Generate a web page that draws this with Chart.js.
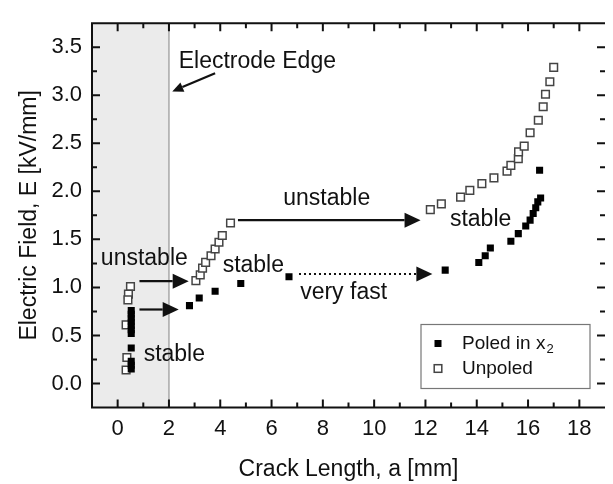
<!DOCTYPE html>
<html>
<head>
<meta charset="utf-8">
<script src="https://cdn.jsdelivr.net/npm/chart.js"></script>
<style>
  body { margin: 0; background: #fff; }
  canvas { display: block; }
</style>
</head>
<body>
<canvas id="myChart" width="613" height="484"></canvas>
<script>
// Poled in x2 (filled squares)
let poledX = [0.53, 0.53, 0.53, 0.53, 0.53, 0.53, 0.53, 0.53, 0.53, 0.53, 0.53,
    2.80, 3.18, 3.80, 4.80, 6.68, 12.77, 14.08, 14.33, 14.53, 15.33, 15.62, 15.91,
    16.08, 16.20, 16.30, 16.38, 16.49, 16.45];
let poledE = [0.76, 0.72, 0.68, 0.64, 0.60, 0.56, 0.52, 0.37, 0.23, 0.19, 0.15,
    0.81, 0.89, 0.96, 1.04, 1.11, 1.18, 1.26, 1.33, 1.41, 1.48, 1.56, 1.64,
    1.70, 1.77, 1.83, 1.89, 1.93, 2.22];

// Unpoled (open squares)
let unpoledX = [0.50, 0.42, 0.40, 0.33, 0.36, 0.33,
    3.05, 3.22, 3.31, 3.43, 3.64, 3.80, 3.95, 4.08, 4.40,
    12.19, 12.62, 13.37, 13.73, 14.20, 14.67, 15.18, 15.33, 15.62, 15.63, 15.85,
    16.08, 16.40, 16.59, 16.68, 16.85, 17.00];
let unpoledE = [1.01, 0.93, 0.87, 0.61, 0.27, 0.14,
    1.07, 1.13, 1.20, 1.26, 1.33, 1.40, 1.47, 1.54, 1.67,
    1.81, 1.87, 1.94, 2.01, 2.08, 2.14, 2.21, 2.27, 2.34, 2.41, 2.47,
    2.61, 2.74, 2.88, 3.01, 3.14, 3.29];

let xMin = -1, xMax = 19;
let yMin = -0.25, yMax = 3.75;
let electrodeEdge = 2;

// annotations, in data units
let labels = [
    { text: 'Electrode Edge', x: 2.38, y: 3.35, align: 'left' },
    { text: 'unstable', x: 8.15, y: 1.92 },
    { text: 'unstable', x: 1.04, y: 1.30 },
    { text: 'stable', x: 2.21, y: 0.30 },
    { text: 'stable', x: 5.29, y: 1.23 },
    { text: 'very fast', x: 8.81, y: 0.95 },
    { text: 'stable', x: 14.15, y: 1.71 }
];
let arrows = [
    { x1: 3.80, y1: 3.23, x2: 2.13, y2: 3.04, head: 11, half: 5 },
    { x1: 4.69, y1: 1.70, x2: 11.81, y2: 1.70 },
    { x1: 0.85, y1: 1.065, x2: 2.77, y2: 1.065 },
    { x1: 0.85, y1: 0.77, x2: 2.38, y2: 0.77 },
    { x1: 7.07, y1: 1.14, x2: 12.27, y2: 1.14, dotted: true }
];

let toPoints = function (xs, ys) {
    return xs.map((x, i) => ({ x: x, y: ys[i] }));
}

let FONT = "'Liberation Sans', Arial, sans-serif";

let drawArrow = function (ctx, a, sx, sy) {
    let x1 = sx(a.x1), y1 = sy(a.y1), x2 = sx(a.x2), y2 = sy(a.y2);
    let head = a.head || 16, half = a.half || 7.5;
    let ang = Math.atan2(y2 - y1, x2 - x1);
    let bx = x2 - head * Math.cos(ang), by = y2 - head * Math.sin(ang);
    ctx.save();
    ctx.strokeStyle = '#111';
    ctx.fillStyle = '#111';
    ctx.lineWidth = a.dotted ? 2 : 2.2;
    if (a.dotted) ctx.setLineDash([2, 3]);
    ctx.beginPath();
    ctx.moveTo(x1, y1);
    ctx.lineTo(bx, by);
    ctx.stroke();
    ctx.setLineDash([]);
    ctx.beginPath();
    ctx.moveTo(x2, y2);
    ctx.lineTo(bx + half * Math.sin(ang), by - half * Math.cos(ang));
    ctx.lineTo(bx - half * Math.sin(ang), by + half * Math.cos(ang));
    ctx.closePath();
    ctx.fill();
    ctx.restore();
}

let framePlugin = {
    id: 'frame',
    beforeDatasetsDraw(chart) {
        let ctx = chart.ctx, ca = chart.chartArea, xs = chart.scales.x;
        let edge = xs.getPixelForValue(electrodeEdge);
        ctx.save();
        ctx.fillStyle = '#ebebeb';
        ctx.fillRect(ca.left, ca.top, edge - ca.left, ca.bottom - ca.top);
        ctx.strokeStyle = '#a8a8a8';
        ctx.lineWidth = 1.5;
        ctx.beginPath();
        ctx.moveTo(edge, ca.top);
        ctx.lineTo(edge, ca.bottom);
        ctx.stroke();
        ctx.restore();
    },
    afterDraw(chart) {
        let ctx = chart.ctx, ca = chart.chartArea;
        let xs = chart.scales.x, ys = chart.scales.y;
        let sx = v => xs.getPixelForValue(v), sy = v => ys.getPixelForValue(v);

        ctx.save();
        ctx.strokeStyle = '#111';
        ctx.lineWidth = 2;
        ctx.beginPath();
        ctx.moveTo(ca.right, ca.top);
        ctx.lineTo(ca.left, ca.top);
        ctx.lineTo(ca.left, ca.bottom);
        ctx.lineTo(ca.right, ca.bottom);
        ctx.stroke();

        // inward ticks
        ctx.beginPath();
        xs.ticks.forEach(t => {
            if (t.value <= xMin || t.value >= xMax) return;
            let len = Math.round(t.value) % 2 === 0 ? 8 : 5;
            let p = sx(t.value);
            ctx.moveTo(p, ca.bottom); ctx.lineTo(p, ca.bottom - len);
            ctx.moveTo(p, ca.top); ctx.lineTo(p, ca.top + len);
        });
        ys.ticks.forEach(t => {
            if (t.value <= yMin + 1e-6 || t.value >= yMax - 1e-6) return;
            let major = Math.abs(t.value * 2 - Math.round(t.value * 2)) < 1e-6;
            let len = major ? 8 : 5;
            let p = sy(t.value);
            ctx.moveTo(ca.left, p); ctx.lineTo(ca.left + len, p);
            ctx.moveTo(ca.right, p); ctx.lineTo(ca.right - len, p);
        });
        ctx.stroke();

        // annotations
        ctx.fillStyle = '#111';
        ctx.font = '23px ' + FONT;
        ctx.textBaseline = 'middle';
        labels.forEach(l => {
            ctx.textAlign = l.align || 'center';
            ctx.fillText(l.text, sx(l.x), sy(l.y));
        });
        arrows.forEach(a => drawArrow(ctx, a, sx, sy));

        // legend
        let bx = ca.right - 184, by = ca.bottom - 83, bw = 169, bh = 64;
        ctx.fillStyle = '#fff';
        ctx.fillRect(bx, by, bw, bh);
        ctx.strokeStyle = '#777';
        ctx.lineWidth = 1.2;
        ctx.strokeRect(bx, by, bw, bh);
        ctx.fillStyle = '#000';
        ctx.fillRect(bx + 17 - 3.5, by + 19 - 3.5, 7, 7);
        ctx.fillStyle = '#fff';
        ctx.strokeStyle = '#444';
        ctx.lineWidth = 1.5;
        ctx.fillRect(bx + 17 - 3.8, by + 44 - 3.8, 7.6, 7.6);
        ctx.strokeRect(bx + 17 - 3.8, by + 44 - 3.8, 7.6, 7.6);
        ctx.fillStyle = '#111';
        ctx.textAlign = 'left';
        ctx.font = '19px ' + FONT;
        ctx.fillText('Poled in x', bx + 41, by + 19);
        let w = ctx.measureText('Poled in x').width;
        ctx.font = '13px ' + FONT;
        ctx.fillText('2', bx + 42 + w, by + 25);
        ctx.font = '19px ' + FONT;
        ctx.fillText('Unpoled', bx + 41, by + 44);
        ctx.restore();
    }
};

let ctx = document.getElementById('myChart').getContext('2d');

let chart = new Chart(ctx, {
    type: 'scatter',
    data: {
        datasets: [{
            label: 'Poled in x2',
            data: toPoints(poledX, poledE),
            pointStyle: 'rect',
            pointRadius: 5,
            backgroundColor: '#000',
            borderColor: '#000',
            borderWidth: 0
        }, {
            label: 'Unpoled',
            data: toPoints(unpoledX, unpoledE),
            pointStyle: 'rect',
            pointRadius: 5.4,
            backgroundColor: '#fff',
            borderColor: '#444',
            borderWidth: 1.5
        }]
    },
    options: {
        responsive: false,
        animation: false,
        layout: { padding: { top: 10, right: 0, left: 0, bottom: 0 } },
        plugins: {
            legend: { display: false },
            tooltip: { enabled: false }
        },
        scales: {
            x: {
                type: 'linear',
                min: xMin,
                max: xMax,
                afterFit: s => { s.height = 76.5; },
                grid: { display: false, drawTicks: false },
                border: { display: false },
                ticks: {
                    stepSize: 1,
                    autoSkip: false,
                    maxRotation: 0,
                    padding: 8,
                    color: '#111',
                    font: { family: FONT, size: 22 },
                    callback: v => (v >= 0 && v <= 18 && Math.round(v) % 2 === 0) ? String(Math.round(v)) : ''
                },
                title: {
                    display: true,
                    text: 'Crack Length, a [mm]',
                    color: '#111',
                    font: { family: FONT, size: 23 },
                    padding: { top: 0, bottom: 1 }
                }
            },
            y: {
                min: yMin,
                max: yMax,
                afterFit: s => { s.width = 92; },
                grid: { display: false, drawTicks: false },
                border: { display: false },
                ticks: {
                    stepSize: 0.25,
                    autoSkip: false,
                    padding: 10,
                    color: '#111',
                    font: { family: FONT, size: 22 },
                    callback: v => {
                        let major = Math.abs(v * 2 - Math.round(v * 2)) < 1e-6;
                        return (major && v > -0.01 && v < 3.6) ? v.toFixed(1) : '';
                    }
                },
                title: {
                    display: true,
                    text: 'Electric Field, E [kV/mm]',
                    color: '#111',
                    font: { family: FONT, size: 23 },
                    padding: { top: 16, bottom: 0 }
                }
            }
        }
    },
    plugins: [framePlugin]
});
</script>
</body>
</html>
